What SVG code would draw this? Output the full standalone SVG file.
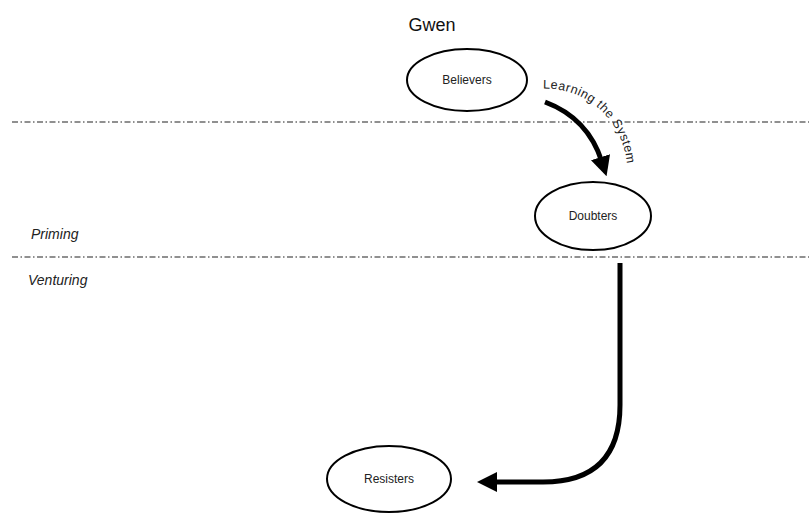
<svg xmlns="http://www.w3.org/2000/svg" width="809" height="516" viewBox="0 0 809 516">
  <style>
    .node { fill: #fff; stroke: #000; stroke-width: 2; }
    .label { font-family: "Liberation Sans", Arial, sans-serif; font-size: 12px; fill: #222; text-anchor: middle; }
    .phase { font-family: "Liberation Sans", Arial, sans-serif; font-size: 14px; font-style: italic; fill: #222; }
    .divider { stroke: #222; stroke-width: 1.2; stroke-dasharray: 6 2.5 1.5 2.5; }
    .flow { fill: none; stroke: #000; stroke-width: 5; }
  </style>
  <defs>
    <marker id="head" markerWidth="4" markerHeight="4" refX="1" refY="2" orient="auto" markerUnits="strokeWidth">
      <path d="M0,0 L4,2 L0,4 Z" fill="#000"/>
    </marker>
    <path id="arcLabel" d="M543,88.5 A82,82 0 0 1 627,172"/>
  </defs>
  <rect width="809" height="516" fill="#fff"/>

  <text x="432" y="31" font-family="Liberation Sans, Arial, sans-serif" font-size="18" fill="#111" text-anchor="middle">Gwen</text>

  <!-- phase dividers -->
  <line class="divider" x1="12" y1="122" x2="809" y2="122"/>
  <line class="divider" x1="12" y1="257" x2="809" y2="257"/>
  <text class="phase" x="31" y="239">Priming</text>
  <text class="phase" x="28" y="285">Venturing</text>

  <g id="connectors">
    <path class="flow" d="M545,102 Q588,118 602,162" marker-end="url(#head)"/>
    <text font-family="Liberation Sans, Arial, sans-serif" font-size="12.5" letter-spacing="0.5" fill="#222">
      <textPath href="#arcLabel">Learning the System</textPath>
    </text>
    <path class="flow" d="M620,263 L620,405 Q620,482 543,482 L492,482" marker-end="url(#head)"/>
  </g>

  <g id="believers">
    <ellipse class="node" cx="467" cy="80" rx="60" ry="31"/>
    <text class="label" x="467" y="84">Believers</text>
  </g>
  <g id="doubters">
    <ellipse class="node" cx="593" cy="216" rx="58" ry="34"/>
    <text class="label" x="593" y="220">Doubters</text>
  </g>
  <g id="resisters">
    <ellipse class="node" cx="389" cy="479" rx="62" ry="33"/>
    <text class="label" x="389" y="483">Resisters</text>
  </g>
</svg>
